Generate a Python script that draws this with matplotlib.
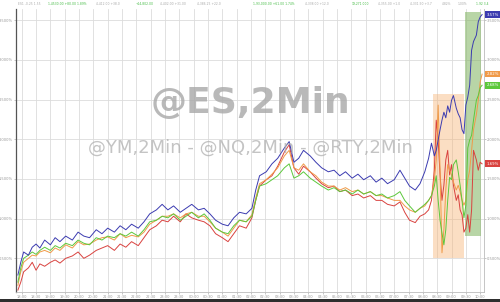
import matplotlib
matplotlib.use("Agg")
import matplotlib.pyplot as plt
from matplotlib.patches import Rectangle

# ---- data -------------------------------------------------------------
bars = [2, 5, 8, 13, 17, 21, 25, 30, 36, 41,
        46, 52, 59, 65, 71, 77, 84, 90, 96, 103,
        109, 115, 121, 128, 134, 140, 147, 153, 159, 165,
        172, 178, 184, 191, 197, 203, 209, 216, 222, 228,
        234, 241, 247, 251, 255, 262, 268, 274, 281, 286,
        291, 296, 301, 308, 314, 320, 327, 333, 339, 345,
        352, 358, 364, 371, 377, 383, 389, 396, 402, 407,
        412, 418, 423, 428, 432, 435, 438, 440, 442, 444,
        446, 448, 450, 452, 454, 456, 458, 461, 463, 465,
        467, 469, 471, 473, 475, 477, 479, 482, 484, 486, 488]

es = [0.29, 0.45, 0.58, 0.54, 0.64, 0.68, 0.63, 0.73, 0.67, 0.76,
      0.71, 0.78, 0.73, 0.83, 0.78, 0.76, 0.86, 0.81, 0.88, 0.83,
      0.91, 0.86, 0.93, 0.88, 0.96, 1.06, 1.11, 1.18, 1.11, 1.16,
      1.08, 1.13, 1.18, 1.11, 1.13, 1.06, 0.98, 0.93, 0.91, 1.01,
      1.08, 1.06, 1.13, 1.36, 1.54, 1.59, 1.69, 1.76, 1.89, 1.97,
      1.71, 1.76, 1.86, 1.79, 1.71, 1.64, 1.59, 1.61, 1.54, 1.59,
      1.51, 1.56, 1.49, 1.54, 1.46, 1.51, 1.44, 1.49, 1.61, 1.51,
      1.41, 1.36, 1.44, 1.59, 1.76, 1.95, 1.79, 1.86, 1.99, 2.12,
      2.24, 2.34, 2.27, 2.42, 2.34, 2.49, 2.55, 2.39, 2.32, 2.27,
      2.12, 2.07, 2.43, 2.53, 2.68, 3.12, 3.23, 3.31, 3.48, 3.54, 3.57]

rty = [0.20, 0.38, 0.50, 0.54, 0.58, 0.55, 0.60, 0.64, 0.60, 0.66,
       0.63, 0.69, 0.66, 0.73, 0.69, 0.67, 0.76, 0.73, 0.78, 0.76,
       0.81, 0.78, 0.83, 0.78, 0.86, 0.96, 0.98, 1.03, 1.01, 1.06,
       0.98, 1.03, 1.08, 1.01, 1.06, 0.98, 0.88, 0.83, 0.81, 0.91,
       0.98, 0.96, 1.03, 1.23, 1.41, 1.44, 1.49, 1.54, 1.64, 1.69,
       1.51, 1.54, 1.59, 1.51, 1.46, 1.41, 1.36, 1.39, 1.34, 1.36,
       1.31, 1.36, 1.31, 1.34, 1.29, 1.31, 1.26, 1.29, 1.34, 1.23,
       1.16, 1.08, 1.13, 1.18, 1.23, 1.29, 1.41, 1.54, 1.23, 0.98,
       0.82, 0.67, 0.86, 1.23, 1.52, 1.49, 1.68, 1.74, 1.59, 1.42,
       1.23, 1.01, 1.17, 1.89, 1.99, 2.05, 2.24, 2.49, 2.55, 2.65, 2.68]

nq = [0.16, 0.33, 0.45, 0.50, 0.54, 0.53, 0.58, 0.60, 0.57, 0.63,
      0.60, 0.67, 0.63, 0.71, 0.67, 0.68, 0.73, 0.76, 0.77, 0.73,
      0.81, 0.76, 0.79, 0.77, 0.83, 0.93, 0.98, 1.03, 1.03, 1.06,
      1.01, 1.06, 1.08, 1.03, 1.03, 0.96, 0.88, 0.83, 0.78, 0.88,
      0.98, 0.96, 1.05, 1.26, 1.44, 1.49, 1.56, 1.64, 1.79, 1.86,
      1.64, 1.61, 1.69, 1.59, 1.54, 1.46, 1.41, 1.41, 1.36, 1.39,
      1.34, 1.36, 1.31, 1.34, 1.29, 1.29, 1.26, 1.23, 1.23, 1.16,
      1.11, 1.08, 1.13, 1.16, 1.23, 1.29, 1.49, 1.74, 2.43, 1.61,
      0.57, 0.86, 1.36, 1.68, 1.61, 1.55, 1.46, 1.36, 1.42, 1.34,
      1.23, 1.17, 1.23, 1.49, 1.61, 1.86, 2.12, 2.31, 2.49, 2.72, 2.82]

ym = [0.10, 0.20, 0.33, 0.38, 0.45, 0.35, 0.43, 0.40, 0.45, 0.48,
      0.44, 0.50, 0.53, 0.58, 0.50, 0.54, 0.60, 0.63, 0.66, 0.60,
      0.68, 0.64, 0.71, 0.66, 0.76, 0.86, 0.91, 0.98, 0.96, 1.03,
      0.96, 1.06, 1.01, 0.98, 0.96, 0.91, 0.81, 0.76, 0.71, 0.81,
      0.91, 0.88, 1.01, 1.23, 1.41, 1.49, 1.54, 1.66, 1.84, 1.93,
      1.64, 1.56, 1.66, 1.59, 1.51, 1.44, 1.39, 1.41, 1.34, 1.36,
      1.29, 1.31, 1.26, 1.29, 1.23, 1.23, 1.18, 1.16, 1.21, 1.08,
      0.98, 0.95, 1.03, 1.06, 1.11, 1.23, 1.61, 2.24, 1.99, 1.55,
      1.23, 1.42, 1.74, 1.86, 1.55, 1.68, 1.42, 1.23, 1.30, 1.11,
      1.05, 0.83, 0.88, 1.05, 0.83, 1.11, 1.86, 1.74, 1.61, 1.71, 1.69]

series_names = ["ES", "RTY", "NQ", "YM"]
series_colors = ["#3b3bb0", "#5cc83c", "#f09a48", "#d9423f"]
last_labels = ["3.57%", "2.68%", "2.82%", "1.69%"]

y_ticks = [0.5, 1.0, 1.5, 2.0, 2.5, 3.0, 3.5]
y_tick_labels = ["0.500%", "1.000%", "1.500%", "2.000%", "2.500%", "3.000%", "3.500%"]

x_ticks = [6 + 15 * i for i in range(33)]
x_tick_labels = ["18:00", "18:30", "19:00", "19:30", "20:00", "20:30", "21:00", "21:30",
                 "22:00", "22:30", "23:00", "23:30", "00:00", "00:30", "01:00", "01:30",
                 "02:00", "02:30", "03:00", "03:30", "04:00", "04:30", "05:00", "05:30",
                 "06:00", "06:30", "07:00", "07:30", "08:00", "08:30", "09:00", "09:30",
                 "10:00"]

# highlighted zones: (start bar, end bar, low %, high %)
orange_zone = (436.5, 469.0, 0.50, 2.57)
green_zone = (470.0, 486.8, 0.78, 3.60)

# header quote strip: (left pixel, text, is_up)
header = [(18, "ES1 -0.25 1.55", False), (48, "1,4530.00 +80.00 1.89%", True),
          (96, "4,412.00 +38.0", False), (136, "+14,802.00", True),
          (160, "4,402.00 +31.00", False), (197, "4,386.25 +22.0", False),
          (253, "1,93,000.00 +61.00 1.74%", True), (305, "4,338.00 +12.0", False),
          (352, "19,271.000", True), (378, "4,355.00 +1.0", False),
          (410, "4,331.50 +3.7", False), (442, "4.82%", False), (458, "1.00%", False),
          (476, "1.92 3.4", True)]

# ---- figure -----------------------------------------------------------
fig = plt.figure(figsize=(5.0, 3.02), dpi=100)
fig.patch.set_facecolor("white")
ax = fig.add_axes([16 / 500, 10 / 302, 468 / 500, 283 / 302])
ax.set_xlim(0, 490)
ax.set_ylim(0.076, 3.64)

ax.add_patch(Rectangle((orange_zone[0], orange_zone[2]), orange_zone[1] - orange_zone[0],
                       orange_zone[3] - orange_zone[2], facecolor="#f7b67a", alpha=0.45,
                       edgecolor="none", zorder=1))
ax.add_patch(Rectangle((green_zone[0], green_zone[2]), green_zone[1] - green_zone[0],
                       green_zone[3] - green_zone[2], facecolor="#7fb35e", alpha=0.55,
                       edgecolor="none", zorder=1))

for vals, col in zip([ym, nq, rty, es], [series_colors[3], series_colors[2],
                                          series_colors[1], series_colors[0]]):
    ax.plot(bars, vals, color=col, lw=0.7, zorder=3)

ax.set_yticks(y_ticks)
ax.set_yticklabels(y_tick_labels)
ax.set_xticks(x_ticks)
ax.set_xticklabels(x_tick_labels)
ax.grid(True, color="#dcdcdc", lw=0.6, zorder=0)
ax.set_axisbelow(True)
ax.tick_params(axis="both", labelsize=2.6, colors="#9a9a9a", length=1.2, width=0.4, pad=1)
ax.tick_params(axis="y", labelright=True, right=True)
ax.spines["top"].set_visible(False)
ax.spines["left"].set_color("#555555")
ax.spines["left"].set_linewidth(0.9)
ax.spines["right"].set_color("#bbbbbb")
ax.spines["right"].set_linewidth(0.6)
ax.spines["bottom"].set_color("#bbbbbb")
ax.spines["bottom"].set_linewidth(0.6)

# watermarks
ax.text(0.5, 0.668, "@ES,2Min", transform=ax.transAxes, ha="center", va="center",
        fontsize=26, color="#a8a8a8", alpha=0.8, fontweight="bold", zorder=5)
ax.text(0.5, 0.509, "@YM,2Min - @NQ,2Min - @RTY,2Min", transform=ax.transAxes,
        ha="center", va="center", fontsize=13, color="#b0b0b0", alpha=0.75, zorder=5)

# last value tags
tag_vals = [es[-1], rty[-1], nq[-1], ym[-1]]
for v, lab, col in zip(tag_vals, last_labels, series_colors):
    ax.text(1.006, v, lab, transform=ax.get_yaxis_transform(), ha="left", va="center",
            fontsize=2.8, color="white", zorder=6, clip_on=False,
            bbox=dict(boxstyle="square,pad=0.35", facecolor=col, edgecolor="none"))

for px, txt, up in header:
    fig.text(px / 500, 0.988, txt, fontsize=2.2, color="#44bb44" if up else "#a8a8a8",
             ha="left", va="center")

# bottom dark bar
fig.patches.append(Rectangle((0, 0), 1, 3.5 / 302, transform=fig.transFigure,
                             facecolor="#2e2e2e", edgecolor="none"))

fig.savefig("out.png", dpi=100)
